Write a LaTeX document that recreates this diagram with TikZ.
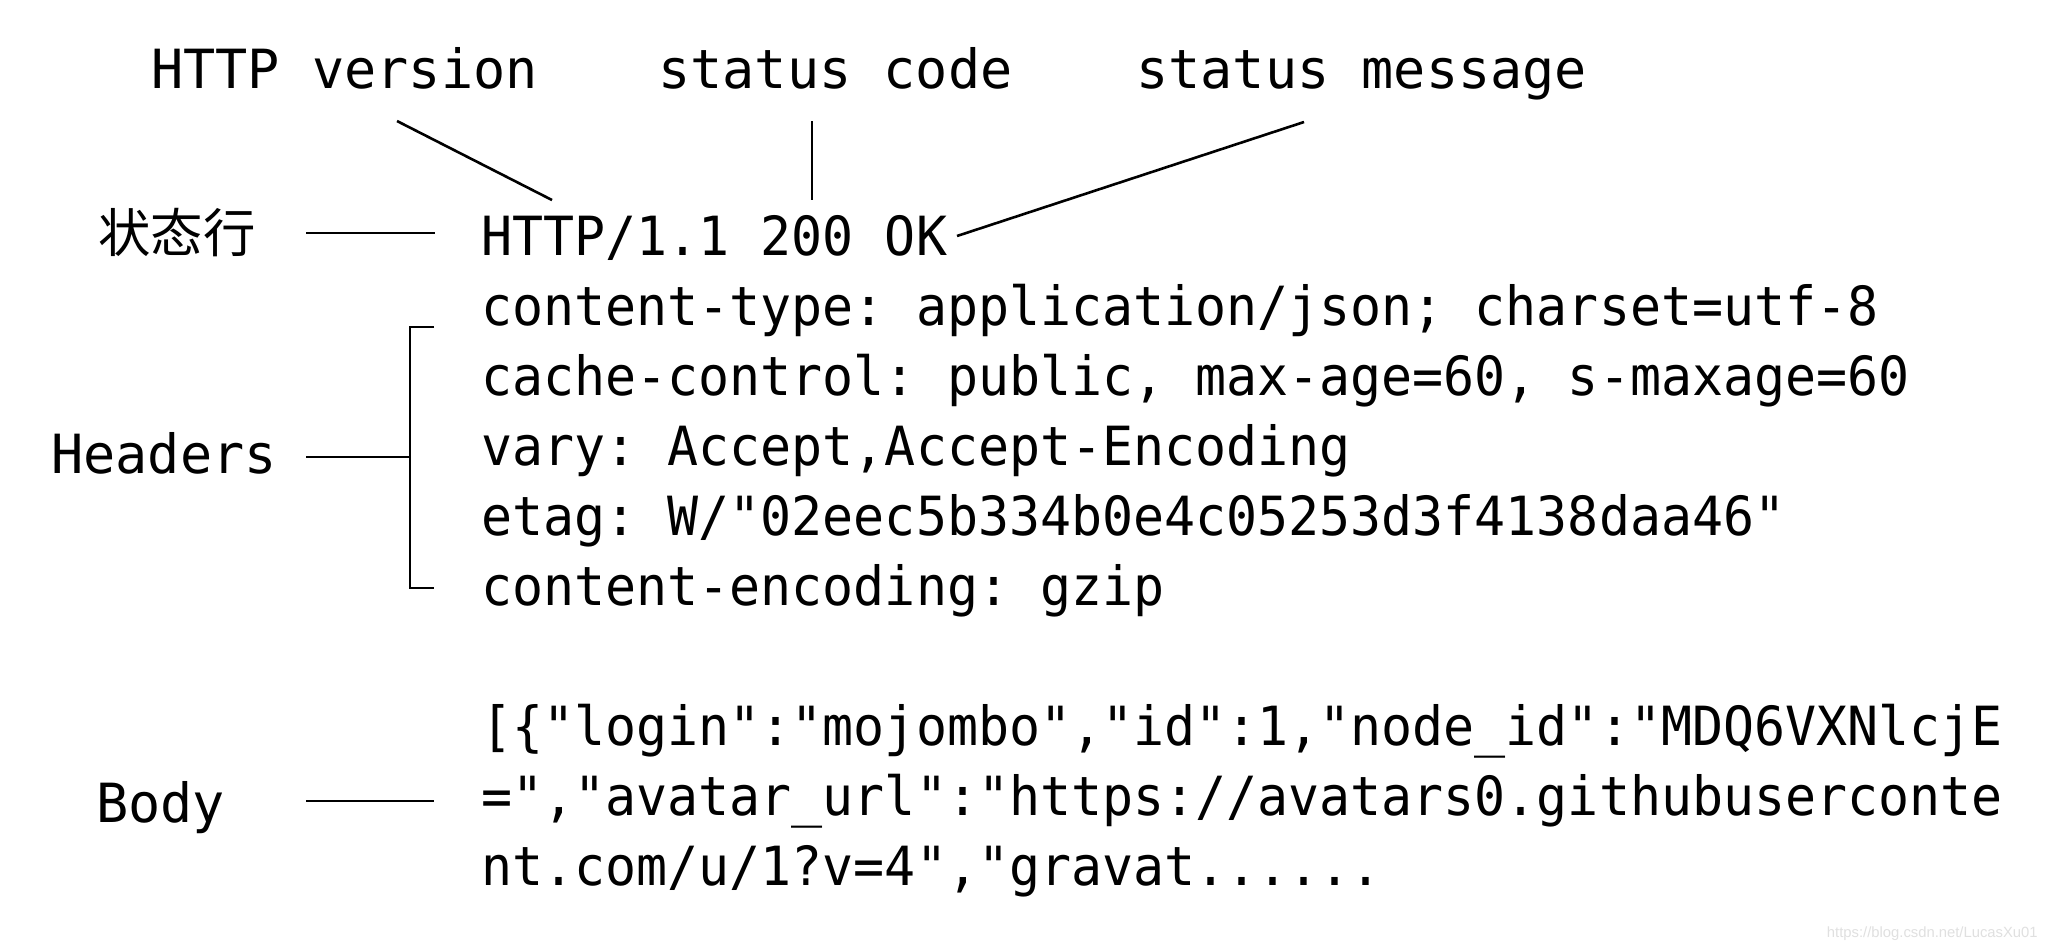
\documentclass[tikz,border=0pt]{standalone}
\usepackage{fontspec}
\newfontfamily\mono[FakeStretch=0.955]{DejaVu Sans Mono}
\newfontfamily\monolbl[FakeStretch=0.99]{DejaVu Sans Mono}
\newfontfamily\cjk{Noto Sans CJK SC}
\newfontfamily\wmfont{Liberation Sans}
\frenchspacing
\begin{document}
\begin{tikzpicture}[x=0.5pt,y=-0.5pt,
  txt/.style={inner sep=0pt,anchor=base west,font=\mono\fontsize{27}{27}\selectfont},
  lbl/.style={inner sep=0pt,anchor=base west,font=\monolbl\fontsize{27}{27}\selectfont},
  cjklabel/.style={inner sep=0pt,anchor=base west,font=\cjk\fontsize{26.2}{27}\selectfont},
  conn/.style={line width=1.3pt,line cap=butt},
  wm/.style={inner sep=0pt,anchor=base east,text=black!12,font=\wmfont\fontsize{7.4}{8}\selectfont}]
\useasboundingbox[fill=white] (0,0) rectangle (2048,950);
% top labels
\node[lbl] (ver) at (151,88) {HTTP version};
\node[lbl] (code) at (658,88) {status code};
\node[lbl] (msg) at (1136,88) {status message};
% left labels
\node[cjklabel] (sl) at (98,252) {状态行};
\node[lbl] (hdr) at (51,473) {Headers};
\node[lbl] (body) at (96,822) {Body};
% message lines
\node[txt] (l0) at (481,255) {HTTP/1.1 200 OK};
\node[txt] (l1) at (481,325) {content-type: application/json; charset=utf-8};
\node[txt] (l2) at (481,395) {cache-control: public, max-age=60, s-maxage=60};
\node[txt] (l3) at (481,465) {vary: Accept,Accept-Encoding};
\node[txt] (l4) at (481,535) {etag: W/"02eec5b334b0e4c05253d3f4138daa46"};
\node[txt] (l5) at (481,605) {content-encoding: gzip};
\node[txt] (b1) at (481,745) {[\{"login":"mojombo","id":1,"node\_id":"MDQ6VXNlcjE};
\node[txt] (b2) at (481,815) {=","avatar\_url":"https://avatars0.githubuserconte};
\node[txt] (b3) at (481,885) {nt.com/u/1?v=4","gravat......};
% watermark
\node[wm] (wmk) at (2038,937) {https://blog.csdn.net/LucasXu01};
% connector end points
\coordinate (verA) at (397,121);
\coordinate (verB) at (552,200);
\coordinate (codeA) at (812,121);
\coordinate (codeB) at (812,200);
\coordinate (msgA) at (1304,122);
\coordinate (msgB) at (957,236);
\coordinate (slA) at (306,233);
\coordinate (slB) at (435,233);
\coordinate (hdA) at (306,457);
\coordinate (hdB) at (410,457);
\coordinate (brT) at (434,327);
\coordinate (brTc) at (410,327);
\coordinate (brBc) at (410,588);
\coordinate (brB) at (434,588);
\coordinate (bdA) at (306,801);
\coordinate (bdB) at (434,801);
% connectors
\draw[conn] (verA) -- (verB);
\draw[conn] (codeA) -- (codeB);
\draw[conn] (msgA) -- (msgB);
\draw[conn] (slA) -- (slB);
\draw[conn] (hdA) -- (hdB);
\draw[conn] (brT) -- (brTc) -- (brBc) -- (brB);
\draw[conn] (bdA) -- (bdB);
\end{tikzpicture}
\end{document}
